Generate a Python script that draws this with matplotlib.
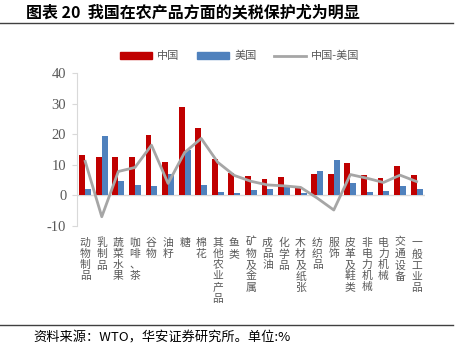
import matplotlib
matplotlib.use("Agg")
import matplotlib.pyplot as plt
import numpy as np
from matplotlib.lines import Line2D
from matplotlib.patches import Patch

plt.rcParams["font.family"] = ["Noto Sans CJK SC", "DejaVu Sans"]

categories = ["动物制品", "乳制品", "蔬菜水果", "咖啡、茶", "谷物", "油籽", "糖", "棉花",
              "其他农业产品", "鱼类", "矿物及金属", "成品油", "化学品", "木材及纸张",
              "纺织品", "服饰", "皮革及鞋类", "非电力机械", "电力机械", "交通设备", "一般工业品"]
china = [13.2, 12.4, 12.4, 12.4, 19.6, 11.0, 28.8, 22.1, 11.8, 7.2, 6.2,
         5.4, 6.1, 3.2, 7.1, 6.9, 10.7, 6.8, 5.6, 9.6, 6.7]
usa = [2.1, 19.4, 4.6, 3.3, 3.2, 7.1, 14.8, 3.5, 1.0, 0.7, 1.6,
       2.0, 3.0, 0.6, 8.0, 11.7, 3.9, 1.2, 1.4, 3.0, 2.2]
diff = [c - u for c, u in zip(china, usa)]
yticks = [-10, 0, 10, 20, 30, 40]

RED = "#C00000"
BLUE = "#4F81BD"
GRAY = "#A6A6A6"
TXT = "#595959"

fig = plt.figure(figsize=(4.69, 3.58), dpi=100)
ax = fig.add_axes([0.164, 0.369, 0.742, 0.427])

x = np.arange(len(categories))
w = 0.36
ax.bar(x - w / 2, china, w, color=RED, zorder=2)
ax.bar(x + w / 2, usa, w, color=BLUE, zorder=2)
ax.plot(x, diff, color=GRAY, lw=2.0, zorder=3)
ax.axhline(0, color="#D9D9D9", lw=1.0, zorder=1)

ax.set_xlim(-0.5, len(categories) - 0.5)
ax.set_ylim(-10, 40)
ax.set_yticks(yticks)
ax.set_yticklabels([str(v) for v in yticks], fontfamily="Liberation Serif",
                   fontsize=10.5, color=TXT)
ax.tick_params(axis="y", length=3.6, color="#D9D9D9", pad=4)
ax.set_xticks([])
for s in ["top", "right", "bottom"]:
    ax.spines[s].set_visible(False)
ax.spines["left"].set_color("#D9D9D9")

# vertical category labels, one character per line
for xi, name in zip(x, categories):
    ax.text(xi, -13.8, "\n".join(name), ha="center", va="top", fontsize=7.8,
            color=TXT, linespacing=1.15)

handles = [Patch(color=RED, label="中国"), Patch(color=BLUE, label="美国"),
           Line2D([], [], color=GRAY, lw=2.0, label="中国-美国")]
fig.legend(handles=handles, loc="center", bbox_to_anchor=(0.511, 0.843), ncol=3,
           frameon=False, fontsize=8, labelcolor=TXT, handlelength=2.9,
           handleheight=0.5, columnspacing=1.55, handletextpad=0.45)

fig.text(0.055, 0.965, "图表 20  我国在农产品方面的关税保护尤为明显", fontsize=11.5,
         fontweight="bold", va="center", ha="left")
fig.add_artist(Line2D([0, 0.965], [0.937, 0.937], color="#404040", lw=1.0))
fig.add_artist(Line2D([0, 0.965], [0.092, 0.092], color="#404040", lw=1.0))
fig.text(0.072, 0.055, "资料来源：WTO，华安证券研究所。单位:%", fontsize=9.5,
         va="center", ha="left")

fig.savefig("out.png", dpi=100)
